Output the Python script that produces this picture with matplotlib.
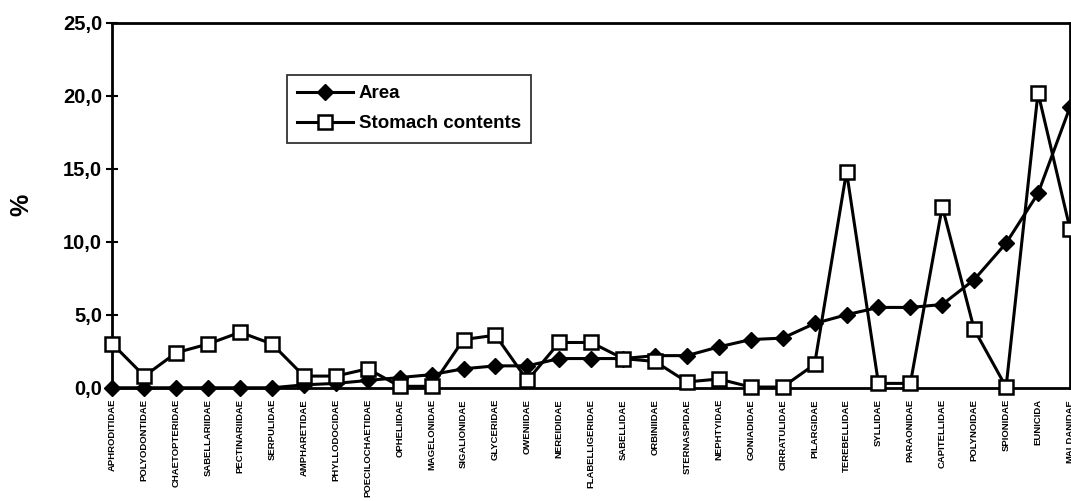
import numpy as np
import matplotlib.pyplot as plt
from matplotlib.ticker import FuncFormatter

# familias de poliquetas (eixo x)
familias = ['APHRODITIDAE', 'POLYODONTIDAE', 'CHAETOPTERIDAE', 'SABELLARIIDAE',
            'PECTINARIIDAE', 'SERPULIDAE', 'AMPHARETIDAE', 'PHYLLODOCIDAE',
            'POECILOCHAETIDAE', 'OPHELIIDAE', 'MAGELONIDAE', 'SIGALIONIDAE',
            'GLYCERIDAE', 'OWENIIDAE', 'NEREIDIDAE', 'FLABELLIGERIDAE',
            'SABELLIDAE', 'ORBINIIDAE', 'STERNASPIDAE', 'NEPHTYIDAE',
            'GONIADIDAE', 'CIRRATULIDAE', 'PILARGIDAE', 'TEREBELLIDAE',
            'SYLLIDAE', 'PARAONIDAE', 'CAPITELLIDAE', 'POLYNOIDAE',
            'SPIONIDAE', 'EUNICIDA', 'MALDANIDAE']

# % na area
area = [0.0, 0.0, 0.0, 0.0, 0.0, 0.0, 0.2, 0.3, 0.5, 0.7,
        0.9, 1.3, 1.5, 1.5, 2.0, 2.0, 2.0, 2.2, 2.2, 2.8,
        3.3, 3.4, 4.4, 5.0, 5.5, 5.5, 5.7, 7.4, 9.9, 13.3, 19.2]

# % no conteudo estomacal
estomago = [3.0, 0.8, 2.4, 3.0, 3.8, 3.0, 0.8, 0.8, 1.3, 0.1,
            0.1, 3.3, 3.6, 0.5, 3.1, 3.1, 2.0, 1.8, 0.4, 0.6,
            0.05, 0.05, 1.6, 14.8, 0.3, 0.3, 12.4, 4.0, 0.05, 20.2, 10.9]

plt.rcParams['font.family'] = ['Liberation Sans', 'DejaVu Sans']
plt.rcParams['font.weight'] = 'bold'

fig = plt.figure(figsize=(10.71, 5.01), dpi=100)
ax = fig.add_axes([0.105, 0.226, 0.894, 0.729])

x = np.arange(len(familias))
ax.plot(x, area, color='black', lw=2.2, marker='D', ms=8,
        mfc='black', mec='black', label='Area', zorder=3, clip_on=False)
ax.plot(x, estomago, color='black', lw=2.2, marker='s', ms=10,
        mfc='white', mec='black', mew=1.8, label='Stomach contents',
        zorder=4, clip_on=False)

ax.set_xlim(0, len(familias) - 1)
ax.set_ylim(0, 25)
ax.set_yticks(np.arange(0, 26, 5))
ax.yaxis.set_major_formatter(FuncFormatter(lambda v, p: f'{v:.1f}'.replace('.', ',')))
ax.tick_params(axis='y', direction='inout', length=9, width=1.5,
               labelsize=14.5, pad=3)
ax.set_xticks(x)
ax.set_xticklabels(familias, rotation=90, fontsize=6.8, va='top', ha='center')
ax.tick_params(axis='x', length=0, pad=8)

for s in ax.spines.values():
    s.set_linewidth(2)

ax.set_ylabel('%', fontsize=18, fontweight='bold', labelpad=21)

leg = ax.legend(loc='upper left', bbox_to_anchor=(0.182, 0.857),
                fancybox=False, frameon=True, fontsize=13.5,
                handlelength=3, borderpad=0.55, labelspacing=0.7,
                handletextpad=0.3, borderaxespad=0)
leg.get_frame().set_edgecolor('black')
leg.get_frame().set_linewidth(1.3)

fig.savefig('out.png', dpi=100)
